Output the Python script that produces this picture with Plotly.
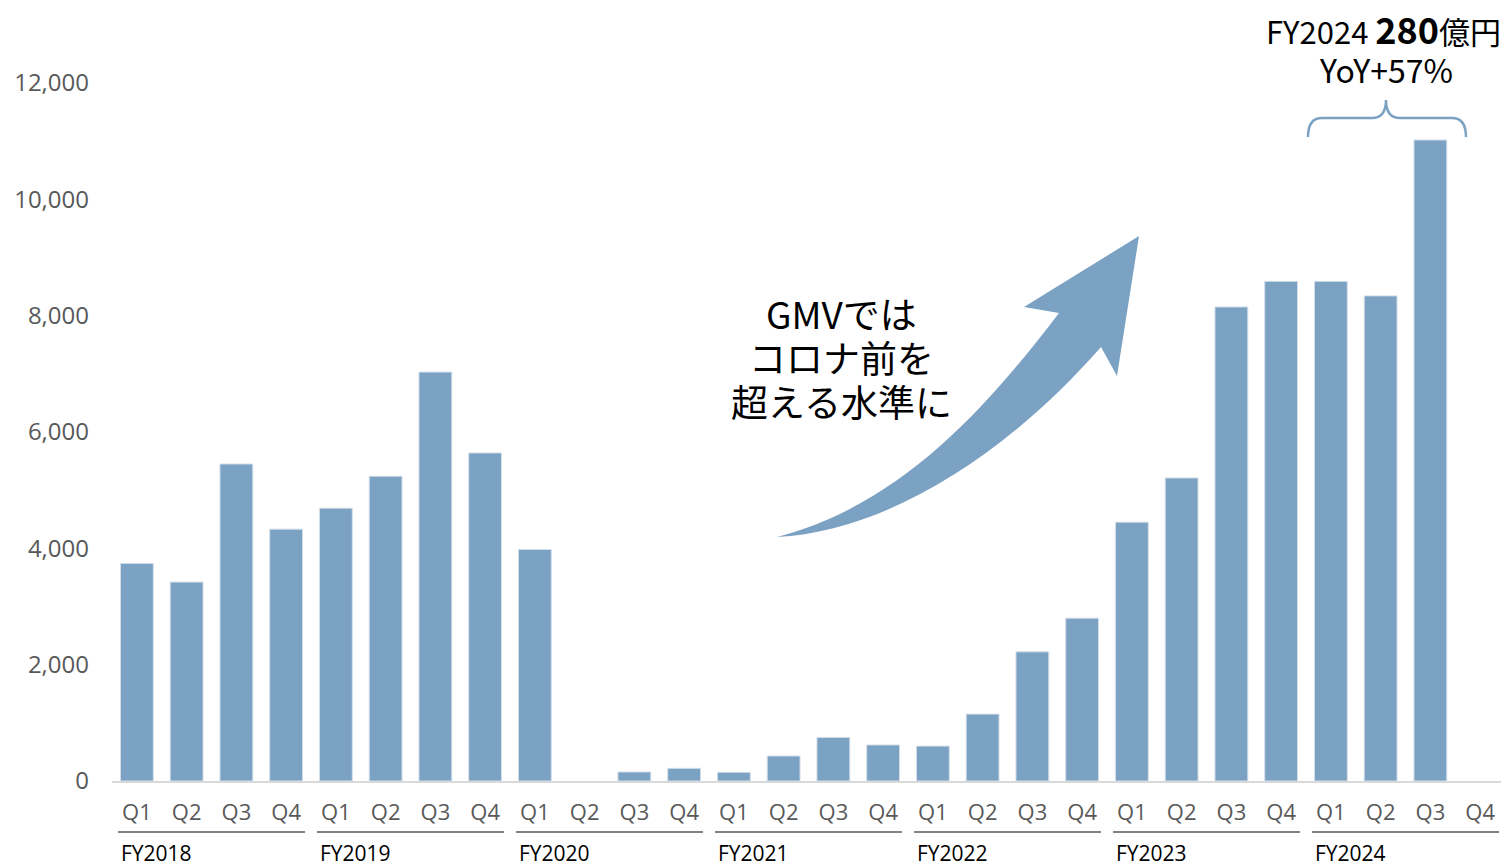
import plotly.graph_objects as go

# ---- data ----
years = ["FY2018", "FY2019", "FY2020", "FY2021", "FY2022", "FY2023", "FY2024"]
quarters = ["Q1", "Q2", "Q3", "Q4"]
gmv = [
    3740, 3420, 5450, 4330,   # FY2018
    4690, 5240, 7030, 5640,   # FY2019
    3980, 0, 155, 218,        # FY2020
    150, 430, 750, 620,       # FY2021
    600, 1150, 2220, 2800,    # FY2022
    4450, 5210, 8150, 8590,   # FY2023
    8590, 8340, 11020, None,  # FY2024
]
y_ticks = [0, 2000, 4000, 6000, 8000, 10000, 12000]
headline_1 = 'FY2024 <b><span style="font-size:36px">280</span></b>億円'
headline_2 = "YoY+57%"
arrow_text = ["GMVでは", "コロナ前を", "超える水準に"]

# ---- layout geometry (reference pixels) ----
W, H = 1509, 865
OFF = 8  # page body margin of the browser
PL, PR, PT, PB = 112, 1505, 83, 781
BAR = "#7BA1C3"
GRAY = "#595959"


def px(x):
    return (x - PL) / (PR - PL)


def py(y):
    return (PB - y) / (PB - PT)


n = len(gmv)
xs = list(range(n))
tick_text = [quarters[i % 4] for i in xs]

fig = go.Figure()
fig.add_trace(go.Bar(
    x=xs, y=gmv,
    marker=dict(color=BAR, line=dict(color="#D3DFEA",
                                     width=[1 if v else 0 for v in gmv])),
    hoverinfo="skip",
))

shapes = []
annotations = []

# year underline + labels
for i, yr in enumerate(years):
    x0 = i * 4 - 0.38
    x1 = i * 4 + 3 + 0.38
    shapes.append(dict(type="line", xref="x", yref="paper", x0=x0, x1=x1,
                       y0=py(832), y1=py(832), line=dict(color=GRAY, width=1.5)))
    annotations.append(dict(xref="x", yref="paper", x=i * 4 - 0.35, y=py(853),
                            xanchor="left", yanchor="middle", text=yr, showarrow=False,
                            font=dict(family="Open Sans", size=21, color="#000000")))


def P(x, y):
    return f"{px(x):.5f},{py(y):.5f}"


# curved arrow (decoration)
arrow_path = (
    f"M {P(777, 537)} "
    f"C {P(900, 505)} {P(985, 410)} {P(1059, 313)} "
    f"L {P(1024, 307)} L {P(1139, 236)} L {P(1117, 376)} L {P(1101, 347)} "
    f"C {P(1000, 462)} {P(880, 532)} {P(777, 537)} Z"
)
shapes.append(dict(type="path", xref="paper", yref="paper", path=arrow_path,
                   fillcolor=BAR, line=dict(width=0), layer="above"))

# bracket above FY2024 Q1-Q3
bracket_path = (
    f"M {P(1308, 137)} Q {P(1308, 118)} {P(1322, 118)} L {P(1372, 118)} "
    f"Q {P(1386, 118)} {P(1386, 100)} Q {P(1386, 118)} {P(1400, 118)} "
    f"L {P(1452, 118)} Q {P(1466, 118)} {P(1466, 137)}"
)
shapes.append(dict(type="path", xref="paper", yref="paper", path=bracket_path,
                   line=dict(color=BAR, width=2.5)))

annotations.append(dict(xref="paper", yref="paper", x=px(1383), y=py(28),
                        xanchor="center", yanchor="middle", text=headline_1, showarrow=False,
                        height=40,
                        font=dict(family="Noto Sans CJK JP", size=31, color="#000000")))
annotations.append(dict(xref="paper", yref="paper", x=px(1386), y=py(69),
                        xanchor="center", yanchor="middle", text=headline_2, showarrow=False,
                        height=38,
                        font=dict(family="Noto Sans CJK JP", size=32, color="#000000")))

for k, t in enumerate(arrow_text):
    annotations.append(dict(xref="paper", yref="paper", x=px(841), y=py(313 + 44 * k),
                            xanchor="center", yanchor="middle", text=t, showarrow=False,
                            height=44,
                            font=dict(family="Noto Sans CJK JP", size=37, color="#000000")))

fig.update_layout(
    width=W - OFF, height=H - OFF,
    margin=dict(l=PL - OFF, r=W - PR, t=PT - OFF, b=H - PB),
    plot_bgcolor="white", paper_bgcolor="white",
    showlegend=False,
    bargap=0.34,
    shapes=shapes,
    annotations=annotations,
    xaxis=dict(range=[-0.5, n - 0.5], tickmode="array", tickvals=xs, ticktext=tick_text,
               showgrid=False, zeroline=False, showline=True, linecolor="#D9D9D9", linewidth=2,
               ticks="", ticklabelstandoff=11,
               tickfont=dict(family="Open Sans", size=22, color=GRAY)),
    yaxis=dict(range=[0, 12000], tickmode="array", tickvals=y_ticks,
               ticktext=[f"{v:,}" for v in y_ticks],
               showgrid=False, zeroline=False, showline=False, ticks="",
               ticklabelstandoff=22,
               tickfont=dict(family="Open Sans", size=24, color=GRAY)),
)

fig.write_html("out.html")
